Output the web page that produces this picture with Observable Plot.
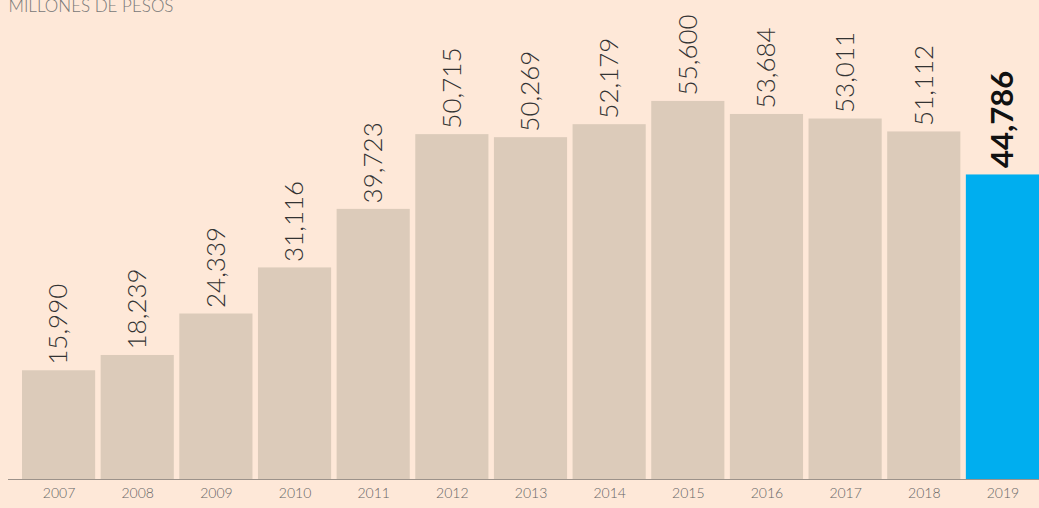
<!DOCTYPE html>
<html>
<head>
<meta charset="utf-8">
<script src="https://cdn.jsdelivr.net/npm/d3@7"></script>
<script src="https://cdn.jsdelivr.net/npm/@observablehq/plot@0.6"></script>
<style>
  html, body { margin: 0; padding: 0; background: #fee8d8; overflow: hidden; }
  #chart svg { display: block; }
</style>
</head>
<body>
<div id="chart"></div>
<script>
const years = ["2007","2008","2009","2010","2011","2012","2013","2014","2015","2016","2017","2018","2019"];
const values = [15990, 18239, 24339, 31116, 39723, 50715, 50269, 52179, 55600, 53684, 53011, 51112, 44786];
const highlightYear = "2019";
const unitLabel = "MILLONES DE PESOS";

const data = years.map((y, i) => ({year: y, value: values[i], hl: y === highlightYear}));
const fmt = d3.format(",");
const font = "Lato, 'Open Sans', sans-serif";

const chart = Plot.plot({
  width: 1039,
  height: 508,
  marginTop: 3,
  marginBottom: 29,
  marginLeft: 8,
  marginRight: 0,
  style: {background: "#fee8d8", fontFamily: font},
  x: {domain: years, paddingInner: 0.07, paddingOuter: 0, insetLeft: 14, round: false, label: null},
  y: {domain: [0, 70000], axis: null},
  marks: [
    Plot.barY(data, {x: "year", y: "value", fill: d => d.hl ? "#00aeef" : "#dccbba"}),
    Plot.ruleY([0], {stroke: "#9c928a", strokeWidth: 1}),
    Plot.text(data.filter(d => !d.hl), {
      x: "year", y: "value", text: d => fmt(d.value),
      rotate: -90, textAnchor: "start", dy: -6, dx: 0,
      fontSize: 26, fontWeight: 300, fill: "#333", fontVariant: "tabular-nums"
    }),
    Plot.text(data.filter(d => d.hl), {
      x: "year", y: "value", text: d => fmt(d.value),
      rotate: -90, textAnchor: "start", dy: -7,
      fontSize: 31, fontWeight: 700, fill: "#111", fontVariant: "tabular-nums"
    }),
    Plot.axisX({tickSize: 0, tickPadding: 9, fontSize: 14, fill: "#666", fontWeight: 300, label: null}),
    Plot.text([unitLabel], {frameAnchor: "top-left", dx: 0, dy: 3, lineAnchor: "middle", fontSize: 17, fill: "#777", fontWeight: 300})
  ]
});
document.getElementById("chart").appendChild(chart);
</script>
</body>
</html>
